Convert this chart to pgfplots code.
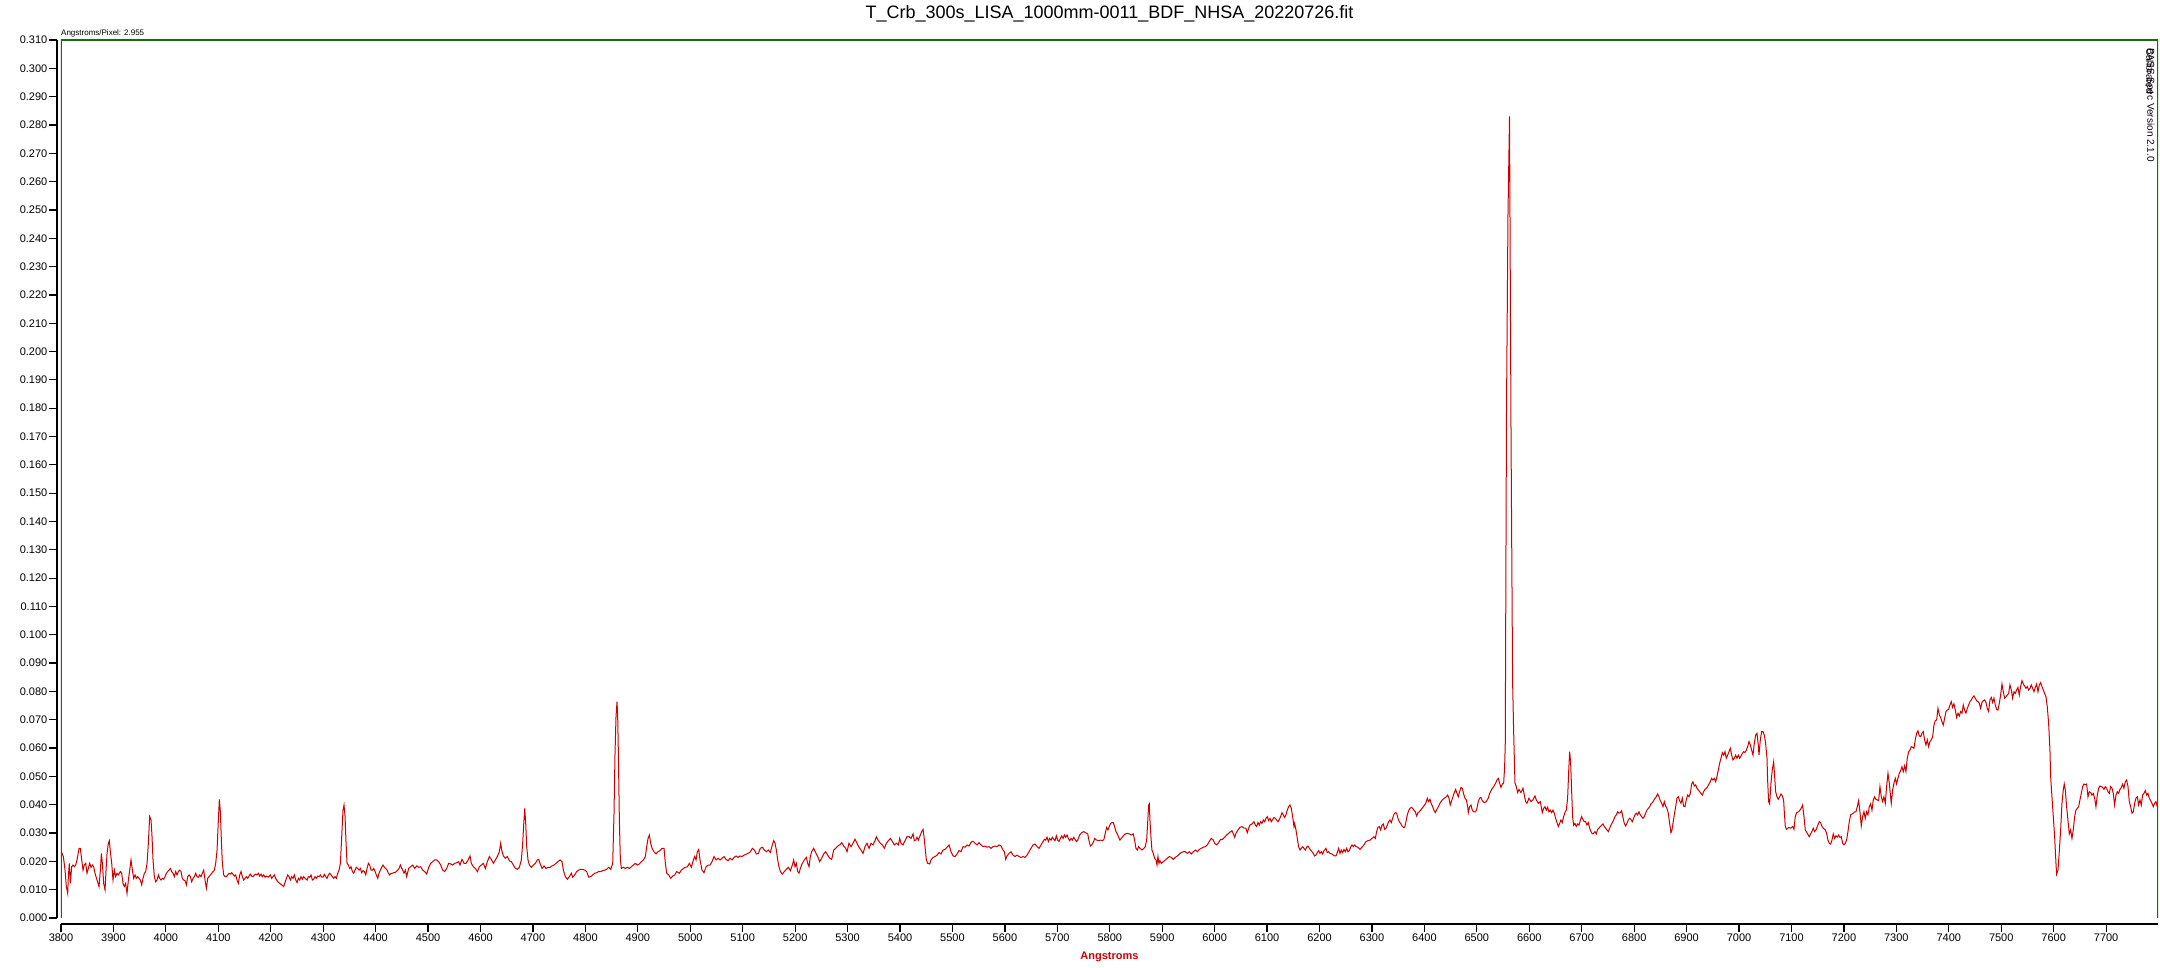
\documentclass[border=0pt]{standalone}
\usepackage{fontspec}
\setmainfont{Liberation Sans}
\usepackage{pgfplots}
\pgfplotsset{compat=1.18}
\definecolor{specred}{RGB}{205,0,0}
\definecolor{framegreen}{RGB}{16,112,16}

\begin{document}
\begin{tikzpicture}
\begin{axis}[
    name=ax, at={(0pt,0pt)}, anchor=south west,
    scale only axis, width=2097pt, height=878pt,
    xmin=3800, xmax=7799, ymin=0, ymax=0.31,
    axis lines*=left,
    axis x line shift=6pt,
    axis y line shift=4pt,
    axis line style={black, line width=1.5pt},
    tick align=outside,
    major tick length=8pt,
    tick style={black, line width=1.2pt},
    minor tick num=0,
    xtick={3800,3900,...,7700},
    ytick={0,0.01,0.02,0.03,0.04,0.05,0.06,0.07,0.08,0.09,0.10,0.11,0.12,0.13,0.14,0.15,0.16,0.17,0.18,0.19,0.20,0.21,0.22,0.23,0.24,0.25,0.26,0.27,0.28,0.29,0.30,0.31},
    scaled y ticks=false,
    /pgf/number format/assume math mode=true,
    tick label style={font=\fontsize{11}{13}\selectfont},
    xticklabel style={/pgf/number format/1000 sep={}, inner sep=2pt},
    yticklabel style={/pgf/number format/fixed, /pgf/number format/fixed zerofill,
        /pgf/number format/precision=3, inner sep=1.5pt},
]
\draw[framegreen, line width=1.5pt] (rel axis cs:0,0) -- (rel axis cs:0,1)
    -- (rel axis cs:1,1) -- (rel axis cs:1,0);

\addplot[specred, line width=1pt] table {
lam flux
3801.3 0.0231
3804.5 0.0217
3807.7 0.0169
3810.2 0.0111
3812.8 0.0087
3814.0 0.0146
3815.9 0.0193
3817.8 0.0122
3820.4 0.0181
3822.9 0.0187
3825.5 0.0181
3828.0 0.0187
3830.6 0.0205
3834.4 0.0246
3836.9 0.0246
3839.5 0.0205
3842.0 0.0169
3844.5 0.0187
3847.1 0.0193
3849.6 0.0158
3852.2 0.0175
3854.7 0.0193
3857.3 0.0179
3859.8 0.0187
3862.3 0.0181
3864.9 0.0158
3868.7 0.0134
3872.5 0.0111
3875.1 0.0169
3877.0 0.0228
3878.9 0.0193
3881.4 0.0122
3884.0 0.0099
3885.9 0.0169
3887.8 0.0228
3890.3 0.0264
3892.2 0.0273
3894.1 0.0234
3896.7 0.0193
3899.2 0.0134
3901.8 0.0169
3904.3 0.0146
3906.8 0.0158
3909.4 0.0152
3913.2 0.0164
3915.7 0.0158
3918.3 0.0122
3920.8 0.0111
3923.4 0.0122
3925.9 0.0087
3928.5 0.0134
3931.0 0.0169
3933.5 0.0205
3936.1 0.0169
3938.6 0.0140
3941.2 0.0152
3943.7 0.0140
3946.3 0.0146
3948.8 0.0140
3951.3 0.0134
3953.9 0.0117
3956.4 0.0140
3959.0 0.0158
3961.5 0.0164
3964.1 0.0193
3966.6 0.0264
3969.1 0.0358
3971.7 0.0346
3973.6 0.0287
3975.5 0.0205
3978.0 0.0146
3980.6 0.0128
3983.1 0.0134
3985.7 0.0152
3988.2 0.0140
3990.8 0.0134
3993.3 0.0140
3995.8 0.0137
3998.4 0.0146
4000.9 0.0158
4003.5 0.0164
4006.0 0.0169
4008.5 0.0175
4011.1 0.0164
4013.6 0.0158
4016.2 0.0146
4018.7 0.0164
4021.3 0.0152
4023.8 0.0164
4026.3 0.0169
4028.9 0.0164
4031.4 0.0140
4034.0 0.0134
4036.5 0.0132
4039.1 0.0117
4041.6 0.0146
4044.2 0.0152
4046.7 0.0146
4049.2 0.0128
4051.8 0.0140
4054.3 0.0146
4056.9 0.0158
4059.4 0.0146
4061.9 0.0144
4064.5 0.0152
4067.0 0.0146
4069.6 0.0158
4072.1 0.0169
4074.7 0.0134
4077.2 0.0105
4079.8 0.0140
4082.3 0.0146
4084.8 0.0152
4087.4 0.0158
4089.9 0.0164
4092.5 0.0169
4095.0 0.0193
4097.6 0.0240
4100.1 0.0346
4102.0 0.0419
4103.9 0.0375
4105.8 0.0275
4107.7 0.0193
4110.3 0.0152
4112.8 0.0146
4115.3 0.0146
4117.9 0.0152
4120.4 0.0158
4123.0 0.0155
4125.5 0.0160
4128.1 0.0154
4130.6 0.0148
4133.1 0.0152
4135.7 0.0134
4138.2 0.0122
4140.8 0.0152
4143.3 0.0164
4145.9 0.0146
4148.4 0.0134
4151.0 0.0140
4153.5 0.0146
4156.0 0.0140
4158.6 0.0148
4161.1 0.0155
4163.7 0.0148
4166.2 0.0146
4168.8 0.0152
4171.3 0.0155
4173.8 0.0152
4176.4 0.0158
4178.9 0.0148
4181.5 0.0155
4184.0 0.0146
4186.6 0.0152
4189.1 0.0144
4191.6 0.0148
4195.4 0.0144
4199.3 0.0152
4201.8 0.0140
4204.4 0.0146
4206.9 0.0152
4209.4 0.0140
4213.3 0.0128
4217.1 0.0122
4220.9 0.0117
4224.7 0.0111
4227.2 0.0125
4229.8 0.0140
4232.3 0.0152
4234.9 0.0146
4237.4 0.0134
4239.9 0.0146
4242.5 0.0140
4245.0 0.0152
4247.6 0.0134
4250.1 0.0125
4252.7 0.0140
4255.2 0.0134
4257.7 0.0146
4260.3 0.0137
4262.8 0.0146
4265.4 0.0140
4269.2 0.0134
4271.7 0.0146
4274.3 0.0144
4276.8 0.0152
4279.4 0.0134
4281.9 0.0137
4284.4 0.0146
4287.0 0.0140
4289.5 0.0148
4292.1 0.0146
4294.6 0.0152
4297.2 0.0144
4299.7 0.0144
4302.2 0.0154
4304.8 0.0146
4307.3 0.0140
4309.9 0.0152
4312.4 0.0158
4315.0 0.0152
4317.5 0.0146
4320.0 0.0140
4322.6 0.0146
4325.1 0.0140
4327.7 0.0158
4330.2 0.0169
4332.8 0.0193
4335.3 0.0287
4337.8 0.0381
4339.7 0.0399
4341.7 0.0358
4343.6 0.0264
4345.5 0.0193
4348.0 0.0187
4350.6 0.0175
4353.1 0.0181
4355.7 0.0164
4358.2 0.0158
4360.7 0.0169
4363.3 0.0179
4365.8 0.0175
4368.4 0.0169
4370.9 0.0175
4373.4 0.0160
4376.0 0.0167
4378.5 0.0164
4381.1 0.0152
4383.6 0.0175
4386.2 0.0193
4388.7 0.0187
4391.2 0.0169
4393.8 0.0169
4396.3 0.0175
4398.9 0.0164
4401.4 0.0152
4404.0 0.0140
4406.5 0.0158
4409.0 0.0169
4411.6 0.0179
4414.1 0.0187
4416.7 0.0179
4419.2 0.0175
4421.8 0.0169
4424.3 0.0158
4426.8 0.0152
4429.4 0.0158
4431.9 0.0158
4434.5 0.0160
4437.0 0.0160
4439.6 0.0164
4442.1 0.0169
4444.6 0.0175
4447.2 0.0187
4449.7 0.0175
4450.3 0.0175
4454.1 0.0158
4456.7 0.0169
4459.2 0.0146
4463.0 0.0175
4466.8 0.0181
4470.7 0.0187
4474.5 0.0175
4478.3 0.0184
4482.1 0.0179
4485.9 0.0181
4489.7 0.0169
4493.5 0.0164
4497.4 0.0155
4501.2 0.0179
4505.0 0.0193
4508.8 0.0199
4512.6 0.0205
4516.4 0.0205
4520.2 0.0199
4524.1 0.0187
4527.9 0.0169
4531.7 0.0164
4535.5 0.0175
4539.3 0.0193
4543.1 0.0191
4546.9 0.0187
4550.8 0.0193
4554.6 0.0195
4558.4 0.0199
4560.9 0.0187
4564.7 0.0207
4568.6 0.0193
4572.4 0.0193
4576.2 0.0205
4580.0 0.0219
4582.5 0.0193
4586.4 0.0181
4590.2 0.0175
4594.0 0.0164
4597.8 0.0181
4601.6 0.0187
4605.4 0.0193
4609.2 0.0175
4613.1 0.0199
4616.9 0.0217
4620.7 0.0207
4624.5 0.0193
4628.3 0.0205
4632.1 0.0217
4635.9 0.0234
4638.5 0.0264
4640.4 0.0240
4643.6 0.0219
4647.4 0.0211
4651.2 0.0217
4655.0 0.0202
4658.8 0.0199
4662.6 0.0187
4666.5 0.0175
4670.3 0.0172
4674.1 0.0179
4677.9 0.0205
4680.4 0.0264
4682.3 0.0328
4684.3 0.0387
4686.2 0.0334
4688.1 0.0252
4690.6 0.0205
4693.2 0.0187
4697.0 0.0179
4700.8 0.0187
4704.6 0.0193
4708.4 0.0205
4710.9 0.0207
4713.5 0.0193
4717.3 0.0175
4721.1 0.0184
4724.9 0.0175
4728.8 0.0179
4732.6 0.0179
4736.4 0.0184
4740.2 0.0187
4744.0 0.0193
4747.8 0.0199
4751.6 0.0205
4755.5 0.0199
4758.0 0.0169
4761.8 0.0146
4765.6 0.0137
4769.4 0.0146
4773.2 0.0158
4775.8 0.0144
4779.6 0.0152
4783.4 0.0164
4787.2 0.0169
4791.1 0.0172
4794.9 0.0172
4798.7 0.0169
4802.5 0.0164
4806.3 0.0144
4810.1 0.0146
4813.9 0.0152
4817.8 0.0158
4821.6 0.0160
4825.4 0.0164
4829.2 0.0164
4833.0 0.0167
4836.8 0.0169
4840.6 0.0172
4844.5 0.0179
4848.3 0.0172
4852.1 0.0193
4854.6 0.0370
4856.5 0.0581
4858.4 0.0711
4860.3 0.0764
4861.6 0.0711
4862.9 0.0581
4864.8 0.0346
4866.7 0.0205
4868.6 0.0175
4872.4 0.0179
4876.2 0.0175
4880.1 0.0179
4883.9 0.0175
4887.7 0.0181
4891.5 0.0187
4895.3 0.0193
4899.1 0.0187
4902.9 0.0191
4906.7 0.0199
4910.6 0.0205
4914.4 0.0217
4916.9 0.0252
4919.5 0.0281
4922.0 0.0293
4924.5 0.0264
4927.1 0.0246
4930.9 0.0234
4934.7 0.0226
4938.5 0.0234
4942.3 0.0238
4946.2 0.0246
4950.0 0.0246
4952.5 0.0193
4955.1 0.0158
4958.9 0.0152
4962.7 0.0140
4966.5 0.0148
4970.3 0.0152
4974.1 0.0164
4979.2 0.0158
4983.0 0.0169
4986.8 0.0175
4990.7 0.0179
4994.5 0.0181
4998.3 0.0193
5002.1 0.0179
5005.9 0.0205
5008.4 0.0217
5011.0 0.0205
5013.5 0.0234
5016.1 0.0242
5018.6 0.0205
5022.4 0.0169
5026.3 0.0160
5030.1 0.0181
5033.9 0.0187
5037.7 0.0187
5041.5 0.0199
5045.3 0.0217
5049.1 0.0205
5053.0 0.0211
5056.8 0.0205
5060.6 0.0211
5064.4 0.0217
5068.2 0.0207
5072.0 0.0202
5075.8 0.0211
5079.7 0.0205
5083.5 0.0214
5087.3 0.0219
5091.1 0.0214
5094.9 0.0219
5098.7 0.0217
5102.5 0.0222
5107.6 0.0226
5112.7 0.0231
5114.6 0.0234
5118.4 0.0246
5122.2 0.0240
5126.0 0.0226
5129.8 0.0228
5133.6 0.0246
5137.5 0.0250
5141.3 0.0240
5145.1 0.0234
5148.9 0.0240
5152.7 0.0231
5156.5 0.0258
5159.1 0.0273
5161.6 0.0264
5164.2 0.0240
5166.7 0.0205
5169.2 0.0181
5171.8 0.0164
5175.6 0.0155
5179.4 0.0164
5183.2 0.0172
5187.0 0.0179
5190.9 0.0167
5194.7 0.0187
5197.2 0.0205
5199.8 0.0181
5202.3 0.0193
5204.8 0.0164
5207.4 0.0158
5209.9 0.0175
5213.7 0.0193
5217.6 0.0205
5221.4 0.0214
5223.9 0.0193
5226.5 0.0181
5229.0 0.0217
5231.5 0.0234
5235.3 0.0246
5239.2 0.0231
5243.0 0.0217
5246.8 0.0199
5250.6 0.0211
5254.4 0.0226
5258.2 0.0234
5262.0 0.0222
5265.9 0.0211
5269.7 0.0207
5273.5 0.0240
5277.3 0.0246
5281.1 0.0254
5284.9 0.0258
5288.8 0.0266
5292.6 0.0254
5296.4 0.0246
5298.9 0.0234
5302.7 0.0264
5306.6 0.0252
5310.4 0.0264
5314.2 0.0278
5318.0 0.0264
5321.8 0.0250
5325.6 0.0240
5329.4 0.0228
5333.3 0.0252
5337.1 0.0264
5340.9 0.0246
5344.7 0.0264
5348.5 0.0258
5352.3 0.0273
5354.9 0.0287
5358.7 0.0273
5362.5 0.0264
5366.3 0.0258
5370.1 0.0246
5374.0 0.0264
5377.8 0.0273
5381.6 0.0281
5385.4 0.0270
5389.2 0.0258
5393.0 0.0264
5396.8 0.0258
5399.4 0.0281
5401.9 0.0264
5405.7 0.0258
5409.5 0.0273
5413.4 0.0287
5417.2 0.0287
5421.0 0.0281
5424.8 0.0297
5427.3 0.0273
5429.9 0.0275
5432.4 0.0285
5435.0 0.0275
5438.8 0.0293
5441.3 0.0305
5443.9 0.0313
5445.8 0.0287
5447.7 0.0252
5450.2 0.0205
5452.8 0.0193
5456.6 0.0191
5459.1 0.0205
5462.9 0.0214
5466.8 0.0217
5470.6 0.0222
5474.4 0.0231
5478.2 0.0226
5482.0 0.0240
5485.8 0.0242
5489.6 0.0250
5493.5 0.0258
5497.3 0.0234
5501.1 0.0219
5504.9 0.0217
5508.7 0.0226
5512.5 0.0238
5516.3 0.0234
5520.2 0.0252
5524.0 0.0250
5527.8 0.0258
5531.6 0.0254
5535.4 0.0268
5539.2 0.0271
5543.0 0.0264
5546.9 0.0258
5550.7 0.0266
5554.5 0.0258
5558.3 0.0252
5562.1 0.0254
5565.9 0.0250
5569.7 0.0252
5573.5 0.0246
5577.4 0.0252
5581.2 0.0254
5585.0 0.0252
5588.8 0.0258
5592.6 0.0254
5596.4 0.0240
5599.0 0.0234
5601.5 0.0207
5604.1 0.0219
5607.9 0.0228
5611.7 0.0234
5615.5 0.0222
5619.3 0.0217
5623.1 0.0222
5626.9 0.0217
5630.8 0.0214
5634.6 0.0217
5638.4 0.0214
5642.2 0.0222
5646.0 0.0234
5649.8 0.0246
5653.6 0.0258
5657.5 0.0261
5661.3 0.0252
5665.1 0.0246
5668.9 0.0258
5672.7 0.0270
5675.3 0.0278
5677.8 0.0275
5680.3 0.0285
5682.9 0.0270
5685.4 0.0281
5688.0 0.0275
5690.5 0.0285
5693.1 0.0278
5695.6 0.0273
5698.1 0.0290
5700.7 0.0275
5703.2 0.0270
5705.8 0.0281
5708.3 0.0290
5710.9 0.0281
5713.4 0.0293
5715.9 0.0285
5718.5 0.0293
5721.0 0.0281
5723.6 0.0273
5726.1 0.0281
5728.7 0.0275
5731.2 0.0285
5733.7 0.0278
5736.3 0.0270
5738.8 0.0275
5742.6 0.0293
5746.4 0.0301
5750.3 0.0305
5754.1 0.0301
5757.9 0.0297
5760.4 0.0273
5763.0 0.0254
5765.5 0.0258
5769.3 0.0270
5771.1 0.0281
5774.9 0.0275
5778.7 0.0273
5782.5 0.0275
5786.4 0.0273
5788.9 0.0278
5791.4 0.0299
5794.0 0.0320
5796.5 0.0311
5799.1 0.0323
5801.6 0.0334
5804.2 0.0337
5806.7 0.0337
5809.2 0.0323
5811.8 0.0305
5814.3 0.0297
5816.9 0.0285
5819.4 0.0275
5822.0 0.0281
5825.8 0.0290
5829.6 0.0297
5833.4 0.0299
5837.2 0.0297
5841.0 0.0293
5844.8 0.0297
5847.4 0.0275
5849.9 0.0246
5852.5 0.0240
5855.0 0.0252
5857.6 0.0246
5861.4 0.0240
5865.2 0.0246
5867.7 0.0252
5870.3 0.0275
5872.2 0.0334
5874.1 0.0399
5875.4 0.0403
5876.6 0.0346
5878.5 0.0287
5880.4 0.0240
5883.0 0.0228
5885.5 0.0211
5888.1 0.0205
5890.0 0.0187
5891.9 0.0217
5893.8 0.0193
5895.7 0.0202
5898.2 0.0193
5902.1 0.0199
5905.9 0.0205
5909.7 0.0211
5913.5 0.0217
5917.3 0.0214
5921.1 0.0207
5924.9 0.0214
5928.8 0.0219
5932.6 0.0226
5936.4 0.0231
5940.2 0.0234
5944.0 0.0234
5947.8 0.0228
5951.6 0.0234
5955.5 0.0226
5959.3 0.0234
5963.1 0.0240
5966.9 0.0234
5970.7 0.0242
5974.5 0.0246
5978.3 0.0250
5982.1 0.0252
5986.0 0.0258
5989.8 0.0270
5993.6 0.0281
5997.4 0.0275
5999.9 0.0264
6003.8 0.0258
6007.6 0.0266
6011.4 0.0278
6015.2 0.0278
6019.0 0.0285
6022.8 0.0293
6026.6 0.0299
6030.5 0.0305
6033.0 0.0308
6035.6 0.0297
6038.1 0.0285
6040.6 0.0299
6044.5 0.0311
6048.3 0.0320
6052.1 0.0323
6055.9 0.0317
6059.7 0.0317
6062.2 0.0301
6064.8 0.0317
6067.3 0.0328
6071.1 0.0332
6075.0 0.0340
6077.5 0.0328
6080.1 0.0323
6082.6 0.0337
6085.1 0.0328
6087.7 0.0340
6090.2 0.0334
6092.8 0.0346
6095.3 0.0340
6097.9 0.0352
6100.4 0.0358
6102.9 0.0344
6105.5 0.0352
6108.0 0.0340
6110.6 0.0348
6113.1 0.0355
6115.7 0.0352
6118.2 0.0346
6120.7 0.0340
6123.3 0.0348
6125.8 0.0358
6128.4 0.0372
6130.9 0.0364
6133.5 0.0355
6136.0 0.0364
6138.5 0.0381
6141.1 0.0393
6143.6 0.0399
6146.2 0.0387
6148.7 0.0358
6151.3 0.0323
6152.5 0.0334
6155.1 0.0311
6157.6 0.0281
6160.1 0.0252
6162.7 0.0240
6165.2 0.0246
6167.8 0.0252
6170.3 0.0246
6172.9 0.0240
6175.4 0.0250
6178.0 0.0254
6180.5 0.0246
6183.0 0.0240
6185.6 0.0234
6188.1 0.0228
6190.7 0.0219
6193.2 0.0222
6195.8 0.0231
6198.3 0.0238
6200.8 0.0228
6203.4 0.0234
6205.9 0.0226
6208.5 0.0238
6212.3 0.0246
6214.8 0.0231
6217.4 0.0234
6219.9 0.0228
6223.7 0.0226
6226.3 0.0222
6228.8 0.0219
6231.3 0.0219
6233.9 0.0231
6236.4 0.0246
6239.0 0.0228
6241.5 0.0240
6244.1 0.0231
6246.6 0.0242
6249.1 0.0234
6251.7 0.0246
6254.2 0.0234
6256.8 0.0238
6259.3 0.0250
6261.9 0.0258
6264.4 0.0252
6266.9 0.0258
6269.5 0.0252
6273.3 0.0250
6277.1 0.0242
6280.9 0.0250
6284.7 0.0258
6288.6 0.0270
6292.4 0.0273
6296.2 0.0275
6300.0 0.0281
6303.8 0.0287
6306.4 0.0281
6308.9 0.0305
6311.4 0.0320
6314.0 0.0323
6316.5 0.0311
6319.1 0.0328
6321.6 0.0332
6324.2 0.0313
6326.7 0.0317
6329.2 0.0328
6331.8 0.0340
6334.3 0.0346
6336.9 0.0337
6339.4 0.0352
6342.0 0.0367
6344.5 0.0372
6347.0 0.0370
6349.6 0.0352
6352.1 0.0340
6354.7 0.0334
6357.2 0.0325
6359.8 0.0320
6362.3 0.0320
6364.8 0.0340
6367.4 0.0364
6369.9 0.0379
6372.5 0.0387
6375.0 0.0391
6377.6 0.0387
6380.1 0.0381
6382.6 0.0375
6385.2 0.0360
6387.7 0.0372
6390.3 0.0375
6392.8 0.0381
6395.4 0.0387
6397.9 0.0393
6400.4 0.0399
6403.0 0.0407
6405.5 0.0423
6408.1 0.0411
6410.6 0.0419
6413.2 0.0403
6415.7 0.0393
6418.2 0.0381
6420.8 0.0372
6423.3 0.0381
6427.1 0.0395
6430.3 0.0407
6434.1 0.0417
6437.9 0.0423
6441.7 0.0428
6444.3 0.0434
6446.8 0.0423
6449.3 0.0399
6451.9 0.0414
6454.4 0.0428
6457.0 0.0443
6459.5 0.0454
6462.1 0.0440
6464.6 0.0428
6467.1 0.0446
6469.7 0.0461
6472.2 0.0458
6474.8 0.0438
6477.3 0.0423
6479.9 0.0417
6482.4 0.0395
6483.7 0.0372
6486.2 0.0393
6488.8 0.0399
6491.3 0.0381
6493.8 0.0375
6497.7 0.0375
6500.2 0.0387
6502.7 0.0411
6505.3 0.0423
6507.8 0.0426
6510.4 0.0414
6514.2 0.0407
6518.0 0.0411
6521.8 0.0423
6524.4 0.0440
6528.2 0.0454
6532.0 0.0464
6535.8 0.0476
6538.3 0.0487
6540.9 0.0493
6543.4 0.0476
6546.0 0.0461
6548.5 0.0473
6551.1 0.0476
6553.0 0.0534
6554.2 0.0617
6556.5 0.1780
6559.4 0.2486
6562.3 0.2830
6565.2 0.1700
6567.6 0.1000
6568.2 0.0834
6570.1 0.0664
6572.7 0.0476
6575.2 0.0464
6577.8 0.0443
6580.3 0.0454
6584.1 0.0443
6588.0 0.0458
6590.5 0.0434
6593.0 0.0411
6595.6 0.0405
6599.4 0.0423
6603.2 0.0411
6607.0 0.0417
6610.8 0.0431
6613.4 0.0417
6617.2 0.0405
6621.0 0.0411
6624.8 0.0372
6627.3 0.0387
6629.9 0.0393
6632.4 0.0381
6635.0 0.0391
6637.5 0.0375
6640.0 0.0381
6642.6 0.0372
6645.1 0.0381
6647.7 0.0370
6650.2 0.0352
6652.8 0.0337
6655.3 0.0323
6657.9 0.0334
6660.4 0.0346
6662.9 0.0337
6665.5 0.0358
6668.0 0.0372
6670.6 0.0381
6673.1 0.0423
6675.0 0.0511
6676.9 0.0587
6678.8 0.0552
6680.7 0.0452
6682.6 0.0358
6684.5 0.0328
6687.1 0.0334
6689.6 0.0323
6692.2 0.0332
6694.7 0.0328
6697.3 0.0344
6699.8 0.0358
6702.4 0.0348
6704.9 0.0340
6707.4 0.0340
6710.0 0.0328
6712.5 0.0337
6715.1 0.0317
6717.6 0.0305
6720.2 0.0297
6722.7 0.0299
6725.2 0.0305
6727.8 0.0297
6730.3 0.0313
6732.9 0.0317
6735.4 0.0323
6738.0 0.0328
6740.5 0.0332
6743.1 0.0323
6745.6 0.0317
6748.1 0.0311
6750.7 0.0305
6753.2 0.0317
6755.8 0.0328
6758.3 0.0337
6760.8 0.0346
6763.4 0.0358
6765.9 0.0364
6768.5 0.0375
6771.0 0.0370
6773.6 0.0372
6776.1 0.0379
6778.7 0.0355
6781.2 0.0334
6783.7 0.0325
6786.3 0.0334
6788.8 0.0346
6791.4 0.0352
6793.9 0.0348
6796.4 0.0340
6799.0 0.0352
6801.5 0.0364
6804.1 0.0370
6806.6 0.0364
6809.2 0.0375
6811.7 0.0364
6814.2 0.0358
6816.8 0.0352
6819.3 0.0358
6821.9 0.0370
6824.4 0.0381
6827.0 0.0387
6829.5 0.0393
6832.0 0.0403
6834.6 0.0407
6837.1 0.0414
6839.7 0.0423
6842.2 0.0428
6844.8 0.0438
6847.3 0.0428
6849.8 0.0414
6852.4 0.0405
6854.9 0.0393
6857.5 0.0411
6860.0 0.0395
6862.6 0.0387
6865.1 0.0370
6867.6 0.0334
6870.2 0.0301
6872.1 0.0311
6874.0 0.0334
6876.5 0.0364
6879.1 0.0393
6881.6 0.0423
6884.2 0.0428
6886.7 0.0414
6889.3 0.0405
6891.8 0.0423
6894.3 0.0395
6896.9 0.0393
6899.4 0.0417
6902.0 0.0434
6904.5 0.0428
6907.1 0.0440
6909.6 0.0473
6912.1 0.0481
6914.7 0.0466
6917.2 0.0470
6919.8 0.0458
6922.3 0.0452
6924.9 0.0446
6927.4 0.0440
6929.9 0.0434
6932.5 0.0446
6935.0 0.0454
6937.6 0.0458
6940.1 0.0464
6942.7 0.0473
6945.2 0.0481
6947.7 0.0493
6950.3 0.0487
6952.8 0.0493
6955.4 0.0481
6957.9 0.0499
6960.5 0.0523
6963.0 0.0546
6965.6 0.0564
6968.1 0.0584
6970.6 0.0575
6973.2 0.0587
6975.7 0.0564
6978.3 0.0575
6980.8 0.0587
6983.4 0.0599
6985.9 0.0575
6988.4 0.0558
6991.0 0.0564
6993.5 0.0575
6996.1 0.0564
6998.6 0.0575
7001.2 0.0564
7003.7 0.0572
7006.2 0.0581
7008.8 0.0587
7011.3 0.0584
7013.9 0.0593
7016.4 0.0605
7019.0 0.0623
7021.5 0.0611
7024.0 0.0593
7026.6 0.0575
7029.1 0.0617
7031.7 0.0646
7034.2 0.0652
7036.7 0.0611
7038.0 0.0575
7040.6 0.0629
7043.1 0.0658
7045.7 0.0658
7048.2 0.0646
7050.7 0.0617
7053.3 0.0564
7054.5 0.0487
7056.4 0.0411
7058.3 0.0403
7060.9 0.0476
7063.4 0.0523
7066.0 0.0552
7067.9 0.0499
7069.8 0.0446
7072.3 0.0428
7074.9 0.0419
7077.4 0.0428
7080.0 0.0438
7082.5 0.0431
7085.0 0.0417
7086.3 0.0375
7088.2 0.0323
7090.7 0.0313
7094.5 0.0320
7098.3 0.0317
7102.2 0.0323
7104.7 0.0313
7107.2 0.0358
7109.8 0.0372
7113.6 0.0375
7117.4 0.0384
7119.9 0.0393
7121.2 0.0399
7123.8 0.0358
7126.3 0.0311
7130.1 0.0299
7133.9 0.0287
7137.8 0.0301
7141.6 0.0317
7144.1 0.0305
7146.7 0.0311
7149.2 0.0323
7153.0 0.0340
7155.6 0.0337
7158.1 0.0323
7160.6 0.0317
7164.5 0.0311
7167.0 0.0299
7169.5 0.0275
7172.1 0.0264
7174.6 0.0261
7177.2 0.0275
7179.7 0.0297
7182.3 0.0281
7184.8 0.0290
7187.3 0.0285
7189.9 0.0293
7192.4 0.0285
7195.0 0.0287
7197.5 0.0264
7200.1 0.0258
7202.6 0.0264
7205.1 0.0275
7207.7 0.0305
7210.2 0.0340
7212.8 0.0364
7215.3 0.0367
7217.9 0.0370
7220.4 0.0375
7222.9 0.0375
7225.5 0.0393
7228.0 0.0414
7230.6 0.0375
7233.1 0.0325
7235.7 0.0358
7238.2 0.0375
7240.7 0.0352
7243.3 0.0375
7245.8 0.0364
7248.4 0.0393
7250.9 0.0403
7253.5 0.0381
7256.0 0.0417
7258.5 0.0428
7261.1 0.0419
7263.6 0.0417
7266.2 0.0414
7268.7 0.0464
7271.3 0.0428
7273.8 0.0411
7276.3 0.0428
7278.9 0.0405
7281.4 0.0464
7284.0 0.0511
7286.5 0.0476
7288.4 0.0440
7290.3 0.0405
7292.9 0.0452
7295.4 0.0476
7298.0 0.0493
7300.5 0.0473
7303.0 0.0493
7305.6 0.0511
7308.1 0.0520
7310.7 0.0534
7313.2 0.0517
7315.8 0.0537
7318.3 0.0517
7320.8 0.0564
7323.4 0.0587
7325.9 0.0593
7328.5 0.0605
7331.0 0.0603
7333.5 0.0599
7336.1 0.0629
7338.6 0.0652
7341.2 0.0661
7343.7 0.0643
7346.3 0.0640
7348.8 0.0652
7351.3 0.0658
7353.9 0.0629
7356.4 0.0611
7359.0 0.0629
7361.5 0.0605
7364.1 0.0623
7366.6 0.0629
7369.2 0.0640
7371.7 0.0681
7374.2 0.0697
7376.8 0.0699
7379.3 0.0740
7381.9 0.0717
7384.4 0.0708
7387.0 0.0693
7389.5 0.0681
7392.0 0.0705
7394.6 0.0729
7397.1 0.0734
7399.7 0.0737
7402.2 0.0752
7404.7 0.0764
7407.3 0.0744
7409.8 0.0756
7412.4 0.0734
7414.9 0.0708
7417.5 0.0723
7420.0 0.0713
7422.5 0.0729
7425.1 0.0723
7427.6 0.0752
7430.2 0.0734
7432.7 0.0723
7435.3 0.0740
7437.8 0.0752
7440.3 0.0764
7442.9 0.0770
7445.4 0.0779
7448.0 0.0784
7450.5 0.0776
7453.1 0.0767
7455.6 0.0764
7458.1 0.0758
7460.7 0.0740
7463.2 0.0761
7465.8 0.0767
7468.3 0.0770
7470.9 0.0761
7473.4 0.0740
7475.9 0.0729
7478.5 0.0770
7481.0 0.0779
7483.6 0.0761
7486.1 0.0776
7488.7 0.0752
7491.2 0.0737
7493.7 0.0734
7496.3 0.0758
7498.8 0.0787
7501.4 0.0826
7503.9 0.0799
7506.5 0.0776
7509.0 0.0781
7511.5 0.0787
7514.1 0.0793
7516.6 0.0823
7519.2 0.0805
7521.7 0.0776
7524.3 0.0799
7526.8 0.0793
7529.3 0.0805
7531.9 0.0814
7534.4 0.0787
7537.0 0.0817
7539.5 0.0838
7542.1 0.0826
7544.6 0.0819
7547.1 0.0811
7549.7 0.0817
7552.2 0.0805
7554.8 0.0811
7557.3 0.0823
7559.9 0.0811
7562.4 0.0799
7564.9 0.0814
7567.5 0.0826
7570.0 0.0799
7572.6 0.0823
7575.1 0.0831
7577.7 0.0817
7580.2 0.0805
7582.7 0.0793
7585.3 0.0781
7587.8 0.0746
7590.4 0.0687
7592.9 0.0593
7594.2 0.0499
7596.7 0.0428
7599.3 0.0358
7601.8 0.0287
7604.4 0.0193
7605.6 0.0155
7608.2 0.0169
7610.7 0.0234
7613.3 0.0311
7615.8 0.0405
7618.3 0.0452
7620.2 0.0473
7622.2 0.0452
7624.7 0.0393
7627.2 0.0346
7629.8 0.0297
7632.3 0.0311
7634.9 0.0281
7637.4 0.0311
7640.0 0.0358
7642.5 0.0381
7645.1 0.0387
7647.6 0.0393
7650.1 0.0417
7652.7 0.0440
7655.2 0.0464
7657.8 0.0473
7660.3 0.0470
7662.8 0.0473
7665.4 0.0428
7667.9 0.0446
7670.5 0.0443
7673.0 0.0434
7675.6 0.0440
7678.1 0.0423
7680.6 0.0393
7683.2 0.0434
7685.7 0.0458
7688.3 0.0466
7690.8 0.0464
7693.4 0.0461
7695.9 0.0454
7698.4 0.0464
7701.0 0.0458
7703.5 0.0446
7706.1 0.0440
7708.6 0.0464
7711.2 0.0458
7713.7 0.0440
7716.2 0.0399
7718.8 0.0434
7721.3 0.0446
7723.9 0.0440
7726.4 0.0454
7729.0 0.0461
7731.5 0.0473
7734.0 0.0458
7736.6 0.0481
7739.1 0.0487
7741.7 0.0464
7744.2 0.0411
7746.8 0.0393
7749.3 0.0370
7751.8 0.0375
7754.4 0.0405
7756.9 0.0423
7759.5 0.0428
7762.0 0.0399
7764.6 0.0417
7767.1 0.0399
7769.6 0.0434
7772.2 0.0440
7774.7 0.0450
7777.3 0.0434
7779.8 0.0440
7782.4 0.0423
7784.9 0.0414
7787.4 0.0405
7790.0 0.0393
7792.5 0.0405
7795.1 0.0411
7797.6 0.0393
};
\end{axis}

\node[anchor=base west, inner sep=0pt, font=\fontsize{8}{9}\selectfont]
    at ([yshift=4pt]ax.north west) {Angstroms/Pixel: 2.955};
\node[font=\fontsize{18}{21}\selectfont]
    at ([yshift=26pt]ax.north) {T\_Crb\_300s\_LISA\_1000mm-0011\_BDF\_NHSA\_20220726.fit};
\node[font=\bfseries\fontsize{11}{13}\selectfont, text=specred]
    at ([yshift=-39pt]ax.south) {Angstroms};
\node[rotate=-90, anchor=west, inner sep=0pt, font=\fontsize{10}{12}\selectfont]
    at ([xshift=-8pt,yshift=-8pt]ax.north east) {BASS Spec Version 2.1.0};
\node[rotate=-90, anchor=west, inner sep=0pt, font=\fontsize{10}{12}\selectfont]
    at ([xshift=-8pt,yshift=-8pt]ax.north east) {Calibrated};

\pgfresetboundingbox
\path[use as bounding box] (-61pt,-49pt) rectangle (2099pt,918pt);
\end{tikzpicture}
\end{document}
